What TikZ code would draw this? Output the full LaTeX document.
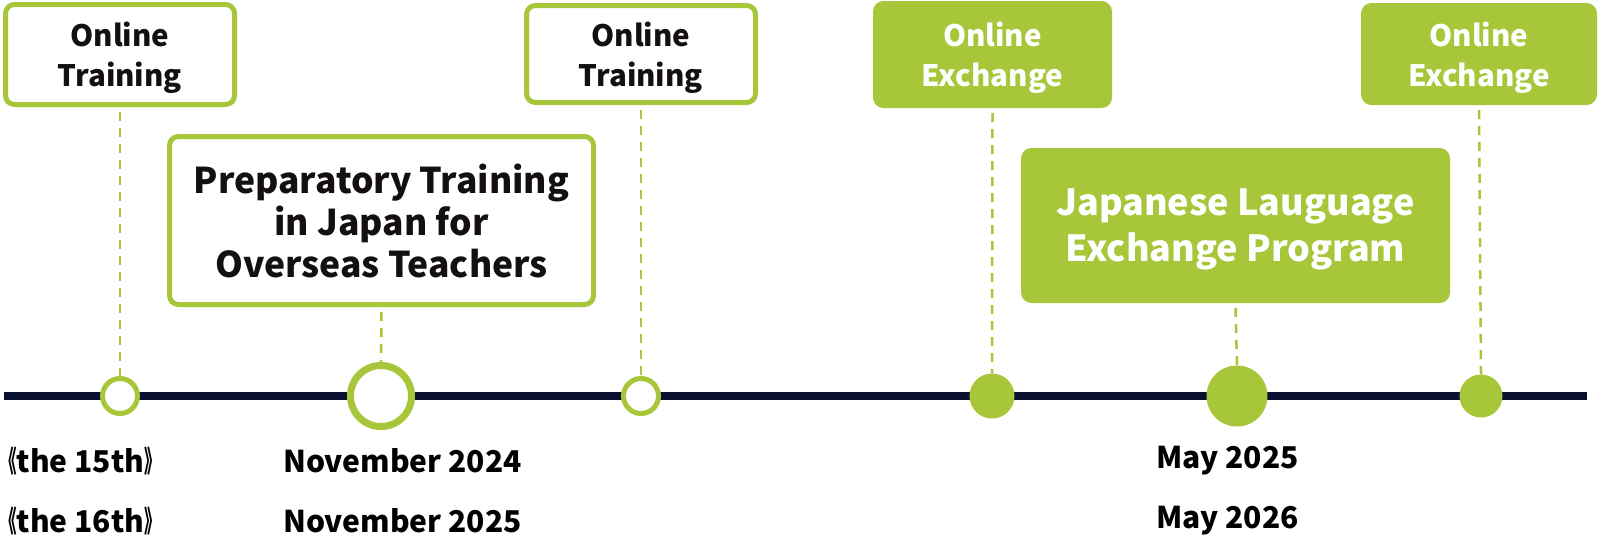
\documentclass[tikz,border=0pt]{standalone}
\usepackage{graphicx}
\usepackage{fontspec}
\setmainfont{Noto Sans CJK JP}
\definecolor{lgreen}{RGB}{168,198,58}
\definecolor{navy}{RGB}{10,16,48}
\definecolor{txt}{RGB}{20,16,16}
\newcommand{\lbrk}{\scalebox{0.55}[1]{《}}
\newcommand{\rbrk}{\scalebox{0.55}[1]{》}}
\begin{document}
\begin{tikzpicture}[x=1pt,y=-1pt,
  outbox/.style={draw=lgreen,line width=5pt,fill=white,rounded corners=9pt,align=center,text=txt,inner sep=0pt},
  fillbox/.style={draw=lgreen,fill=lgreen,line width=1pt,rounded corners=10pt,align=center,text=white,inner sep=0pt},
  smallf/.style={font=\fontsize{29.5}{40}\selectfont\bfseries,text depth=0pt},
  bigf/.style={font=\fontsize{35.5}{42}\selectfont\bfseries},
  jpf/.style={font=\fontsize{36}{46}\selectfont\bfseries,text depth=0pt},
  opendot/.style={circle,draw=lgreen,fill=white,inner sep=0pt},
  filldot/.style={circle,fill=lgreen,inner sep=0pt},
  conn/.style={draw=lgreen,line width=2.5pt,dash pattern=on 9pt off 7pt},
  lab/.style={anchor=west,text=black,font=\fontsize{30}{34}\selectfont\bfseries,inner sep=0pt}]
\useasboundingbox[fill=white] (0,0) rectangle (1600,544);
% timeline
\coordinate (tl) at (4,396);
\coordinate (tr) at (1587,396);
\draw[navy,line width=8pt] (tl) -- (tr);
% boxes
\node[outbox,smallf,minimum width=229pt,minimum height=100pt] (b1) at (120,54.5) {Online\\Training};
\node[outbox,bigf,minimum width=424pt,minimum height=168pt] (b2) at (381.5,220.5) {Preparatory Training\\in Japan for\\Overseas Teachers};
\node[outbox,smallf,minimum width=229pt,minimum height=97pt] (b3) at (641,54) {Online\\Training};
\node[fillbox,smallf,minimum width=238pt,minimum height=106pt] (b4) at (992.5,54.5) {Online\\Exchange};
\node[fillbox,jpf,minimum width=428pt,minimum height=154pt] (b5) at (1235.5,225.5) {Japanese Lauguage\\Exchange Program};
\node[fillbox,smallf,minimum width=235pt,minimum height=101pt] (b6) at (1479,54) {Online\\Exchange};
% dots
\node[opendot,line width=5pt,minimum size=35pt] (c1) at (120,396) {};
\node[opendot,line width=7pt,minimum size=61pt] (c2) at (381,396) {};
\node[opendot,line width=5pt,minimum size=35pt] (c3) at (641,396) {};
\node[filldot,minimum size=45pt] (c4) at (992,396) {};
\node[filldot,minimum size=61pt] (c5) at (1237,396) {};
\node[filldot,minimum size=43pt] (c6) at (1481,396) {};
% connectors
\draw[conn] (b1.south) ++(0,5) -- (c1.north);
\draw[conn] (b2.south) ++(0,5) -- (c2.north);
\draw[conn] (b3.south) ++(0,5) -- (c3.north);
\draw[conn] (b4.south) ++(0,5) -- (c4.north);
\draw[conn] (b5.south) ++(0,5) -- (c5.north);
\draw[conn] (b6.south) ++(0,5) -- (c6.north);
% labels
\node[lab] (l1) at (0,461) {\lbrk the 15th\rbrk};
\node[lab] (l2) at (0,521) {\lbrk the 16th\rbrk};
\node[lab] (d1) at (283,461) {November 2024};
\node[lab] (d2) at (283,521) {November 2025};
\node[lab] (d3) at (1156,461) {May 2025};
\node[lab] (d4) at (1156,521) {May 2026};
\end{tikzpicture}
\end{document}
